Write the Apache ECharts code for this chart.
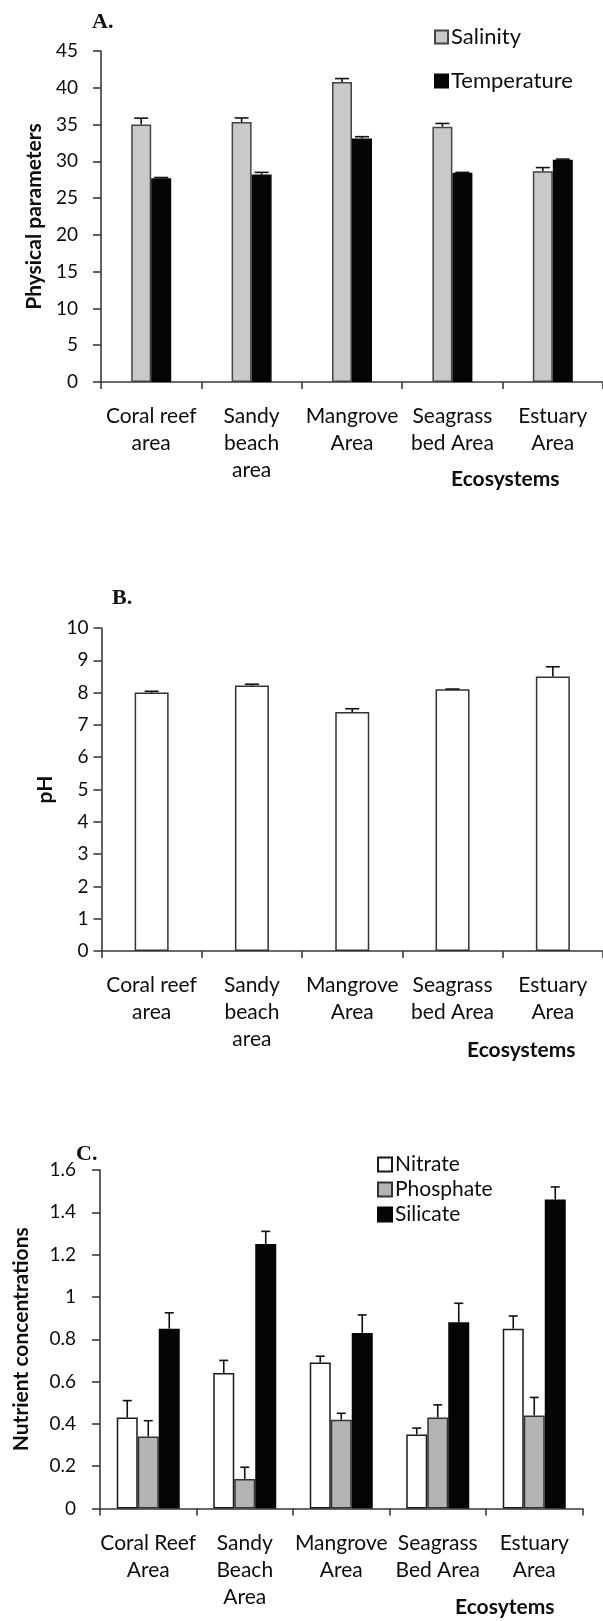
<!DOCTYPE html>
<html>
<head>
<meta charset="utf-8">
<script src="https://cdn.jsdelivr.net/npm/echarts@6/dist/echarts.min.js"></script>
<style>
  html, body { margin: 0; padding: 0; background: #ffffff; }
  #chart { width: 603px; height: 1621px; }
</style>
</head>
<body>
<div id="chart"></div>
<script>
// Ecosystem categories (panels A/B and panel C use slightly different wording)
const categoriesAB = ['Coral reef\narea', 'Sandy\nbeach\narea', 'Mangrove\nArea', 'Seagrass\nbed Area', 'Estuary\nArea'];
const categoriesC = ['Coral Reef\nArea', 'Sandy\nBeach\nArea', 'Mangrove\nArea', 'Seagrass\nBed Area', 'Estuary\nArea'];

// A. Physical parameters (mean and standard error)
const salinity = [35.0, 35.35, 40.8, 34.7, 28.65];
const salinityErr = [0.87, 0.55, 0.45, 0.45, 0.5];
const temperature = [27.7, 28.2, 33.1, 28.45, 30.2];
const temperatureErr = [0.1, 0.3, 0.25, 0.05, 0.1];

// B. pH
const ph = [8.0, 8.22, 7.4, 8.1, 8.5];
const phErr = [0.04, 0.04, 0.1, 0.01, 0.3];

// C. Nutrient concentrations
const nitrate = [0.43, 0.64, 0.69, 0.35, 0.85];
const nitrateErr = [0.08, 0.06, 0.03, 0.03, 0.06];
const phosphate = [0.34, 0.14, 0.42, 0.43, 0.44];
const phosphateErr = [0.075, 0.055, 0.03, 0.06, 0.085];
const silicate = [0.85, 1.25, 0.83, 0.88, 1.46];
const silicateErr = [0.075, 0.06, 0.085, 0.09, 0.06];

const FONT = 'Lato';
const AXIS_COLOR = '#3a3a3a';
const TEXT_COLOR = '#0d0d0d';

// Upper error whisker with a cap, drawn over bar number `slot` of `count` in a group
function errorSeries(name, values, errs, axisIdx, slot, count, barW, capW) {
  return {
    type: 'custom',
    name: name + ' error',
    xAxisIndex: axisIdx,
    yAxisIndex: axisIdx,
    z: 5,
    silent: true,
    data: values.map((v, i) => [i, v, errs[i]]),
    renderItem: function (params, api) {
      const base = api.coord([api.value(0), api.value(1)]);
      const top = api.coord([api.value(0), api.value(1) + api.value(2)]);
      const x = base[0] + (slot - (count - 1) / 2) * barW;
      const style = { stroke: '#111111', lineWidth: 1.6 };
      return {
        type: 'group',
        children: [
          { type: 'line', shape: { x1: x, y1: base[1], x2: x, y2: top[1] }, style: style },
          { type: 'line', shape: { x1: x - capW / 2, y1: top[1], x2: x + capW / 2, y2: top[1] }, style: style }
        ]
      };
    }
  };
}

function barSeries(name, values, axisIdx, fill, border, barW) {
  return {
    type: 'bar',
    name: name,
    xAxisIndex: axisIdx,
    yAxisIndex: axisIdx,
    data: values,
    barWidth: barW,
    barGap: '0%',
    itemStyle: { color: fill, borderColor: border, borderWidth: 1.5 },
    emphasis: { disabled: true }
  };
}

function categoryAxis(idx, cats) {
  return {
    type: 'category',
    gridIndex: idx,
    data: cats,
    axisLine: { lineStyle: { color: AXIS_COLOR, width: 1.6 } },
    axisTick: { show: true, length: 7, lineStyle: { color: AXIS_COLOR, width: 1.6 } },
    axisLabel: {
      interval: 0, margin: 21, color: TEXT_COLOR,
      fontFamily: FONT, fontSize: 21, lineHeight: 27, align: 'center'
    }
  };
}

function valueAxis(idx, min, max, step, name, nameGap, labelMargin) {
  return {
    type: 'value',
    gridIndex: idx,
    min: min, max: max, interval: step,
    name: name,
    nameLocation: 'middle',
    nameRotate: 90,
    nameGap: nameGap,
    nameTextStyle: { fontFamily: FONT, fontWeight: 'bold', fontSize: 21, color: TEXT_COLOR },
    splitLine: { show: false },
    axisLine: { show: true, lineStyle: { color: AXIS_COLOR, width: 1.6 } },
    axisTick: { show: true, length: 8, lineStyle: { color: AXIS_COLOR, width: 1.6 } },
    axisLabel: {
      margin: labelMargin, color: TEXT_COLOR, fontFamily: FONT, fontSize: 19,
      formatter: v => String(Math.round(v * 10) / 10)
    }
  };
}

const panelLetter = { fontFamily: 'Liberation Serif', fontWeight: 'bold', fontSize: 22, color: TEXT_COLOR };
const xTitle = { fontFamily: FONT, fontWeight: 'bold', fontSize: 21, color: TEXT_COLOR };

const option = {
  backgroundColor: '#ffffff',
  animation: false,
  title: [
    { text: 'A.', left: 92, top: 11, textStyle: panelLetter, padding: 0 },
    { text: 'Ecosystems', left: 451, top: 469, textStyle: xTitle, padding: 0 },
    { text: 'B.', left: 112, top: 587, textStyle: panelLetter, padding: 0 },
    { text: 'Ecosystems', left: 467, top: 1040, textStyle: xTitle, padding: 0 },
    { text: 'C.', left: 76, top: 1143, textStyle: panelLetter, padding: 0 },
    { text: 'Ecosytems', left: 455, top: 1597, textStyle: xTitle, padding: 0 }
  ],
  legend: [
    {
      data: ['Salinity', 'Temperature'],
      orient: 'vertical', left: 429, top: 21,
      itemWidth: 13, itemHeight: 13, itemGap: 22, icon: 'rect',
      textStyle: { fontFamily: FONT, fontSize: 22, color: TEXT_COLOR, padding: [0, 0, 0, -2] },
      selectedMode: false
    },
    {
      data: ['Nitrate', 'Phosphate', 'Silicate'],
      orient: 'vertical', left: 372, top: 1149,
      itemWidth: 14, itemHeight: 14, itemGap: 4, icon: 'rect',
      textStyle: { fontFamily: FONT, fontSize: 21, color: TEXT_COLOR, padding: [0, 0, 0, -2] },
      selectedMode: false
    }
  ],
  grid: [
    { left: 101, top: 51, width: 505, height: 331 },
    { left: 101.5, top: 628, width: 505, height: 323 },
    { left: 100, top: 1170, width: 482.5, height: 338.5 }
  ],
  xAxis: [
    categoryAxis(0, categoriesAB),
    categoryAxis(1, categoriesAB),
    categoryAxis(2, categoriesC)
  ],
  yAxis: [
    valueAxis(0, 0, 45, 5, 'Physical parameters', 52, 23),
    valueAxis(1, 0, 10, 1, 'pH', 40, 13),
    valueAxis(2, 0, 1.6, 0.2, 'Nutrient concentrations', 68, 24)
  ],
  series: [
    barSeries('Salinity', salinity, 0, '#c9c9c9', '#444444', 20),
    barSeries('Temperature', temperature, 0, '#050505', '#050505', 20),
    errorSeries('Salinity', salinity, salinityErr, 0, 0, 2, 20, 14),
    errorSeries('Temperature', temperature, temperatureErr, 0, 1, 2, 20, 14),

    barSeries('pH', ph, 1, '#ffffff', '#333333', 34),
    errorSeries('pH', ph, phErr, 1, 0, 1, 34, 14),

    barSeries('Nitrate', nitrate, 2, '#ffffff', '#1a1a1a', 21),
    barSeries('Phosphate', phosphate, 2, '#b4b4b4', '#333333', 21),
    barSeries('Silicate', silicate, 2, '#050505', '#050505', 21),
    errorSeries('Nitrate', nitrate, nitrateErr, 2, 0, 3, 21, 9),
    errorSeries('Phosphate', phosphate, phosphateErr, 2, 1, 3, 21, 9),
    errorSeries('Silicate', silicate, silicateErr, 2, 2, 3, 21, 9)
  ]
};

const chart = echarts.init(document.getElementById('chart'), null, { renderer: 'canvas' });
chart.setOption(option);
</script>
</body>
</html>
